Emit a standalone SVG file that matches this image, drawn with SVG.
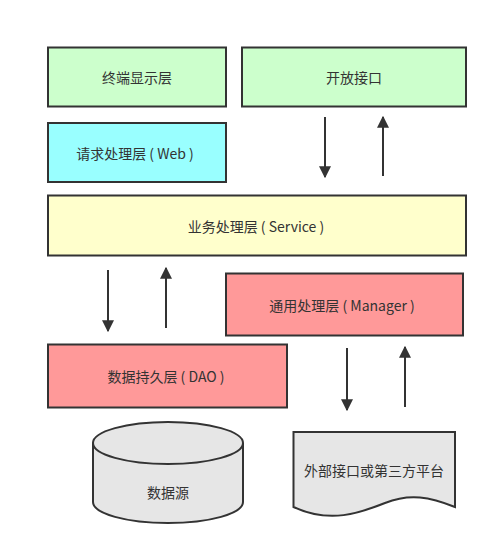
<svg xmlns="http://www.w3.org/2000/svg" width="498" height="556" viewBox="0 0 498 556">
<style>
.box{stroke:#333;stroke-width:2}
.t{font-family:"Noto Sans CJK SC","Liberation Sans",sans-serif;font-size:14px;fill:#333;text-anchor:middle;dominant-baseline:central;white-space:pre}
.c{stroke:#333;stroke-width:2;fill:none}
</style>
<defs>
<marker id="ah" viewBox="0 0 10 10" refX="9" refY="5" markerWidth="6" markerHeight="6" orient="auto" markerUnits="strokeWidth">
<path d="M0,0 L10,5 L0,10 Z" fill="#333"/>
</marker>
</defs>
<rect width="498" height="556" fill="#fff"/>
<g id="terminal"><rect class="box" x="48" y="47.5" width="178" height="59" fill="#CCFFCC"/><text class="t" x="137" y="77">终端显示层</text></g>
<g id="openapi"><rect class="box" x="242" y="47.5" width="224" height="59" fill="#CCFFCC"/><text class="t" x="354" y="77">开放接口</text></g>
<g id="web"><rect class="box" x="48" y="123" width="178" height="59" fill="#99FFFF"/><text class="t" x="135" y="152.5">请求处理层 ( Web )</text></g>
<g id="service"><rect class="box" x="48" y="195.5" width="418" height="60" fill="#FFFFCC"/><text class="t" x="256" y="225.5">业务处理层 ( Service )</text></g>
<g id="manager"><rect class="box" x="226" y="273.5" width="237" height="62" fill="#FF9999"/><text class="t" x="342" y="304.5">通用处理层 ( Manager )</text></g>
<g id="dao"><rect class="box" x="48" y="344.5" width="239" height="63" fill="#FF9999"/><text class="t" x="166" y="376">数据持久层 ( DAO )</text></g>
<g id="datasource">
<path class="box" d="M93,443 L93,502 A75,21 0 0 0 243,502 L243,443 A75,21 0 0 0 93,443 Z" fill="#E6E6E6"/>
<path class="box" d="M93,443 A75,21 0 0 0 243,443" fill="none"/>
<text class="t" x="168" y="492">数据源</text>
</g>
<g id="external">
<path class="box" d="M293.5,432 L455,432 L455,507 C430,497 410,493 385,503 C360,513 330,524 293.5,507 Z" fill="#E6E6E6"/>
<text class="t" x="374" y="470">外部接口或第三方平台</text>
</g>
<g id="connectors">
<line class="c" x1="325" y1="117" x2="325" y2="177" marker-end="url(#ah)"/>
<line class="c" x1="383" y1="176" x2="383" y2="117" marker-end="url(#ah)"/>
<line class="c" x1="108" y1="270" x2="108" y2="331" marker-end="url(#ah)"/>
<line class="c" x1="166" y1="328" x2="166" y2="268" marker-end="url(#ah)"/>
<line class="c" x1="347" y1="348" x2="347" y2="410" marker-end="url(#ah)"/>
<line class="c" x1="405" y1="407" x2="405" y2="347" marker-end="url(#ah)"/>
</g>
</svg>
